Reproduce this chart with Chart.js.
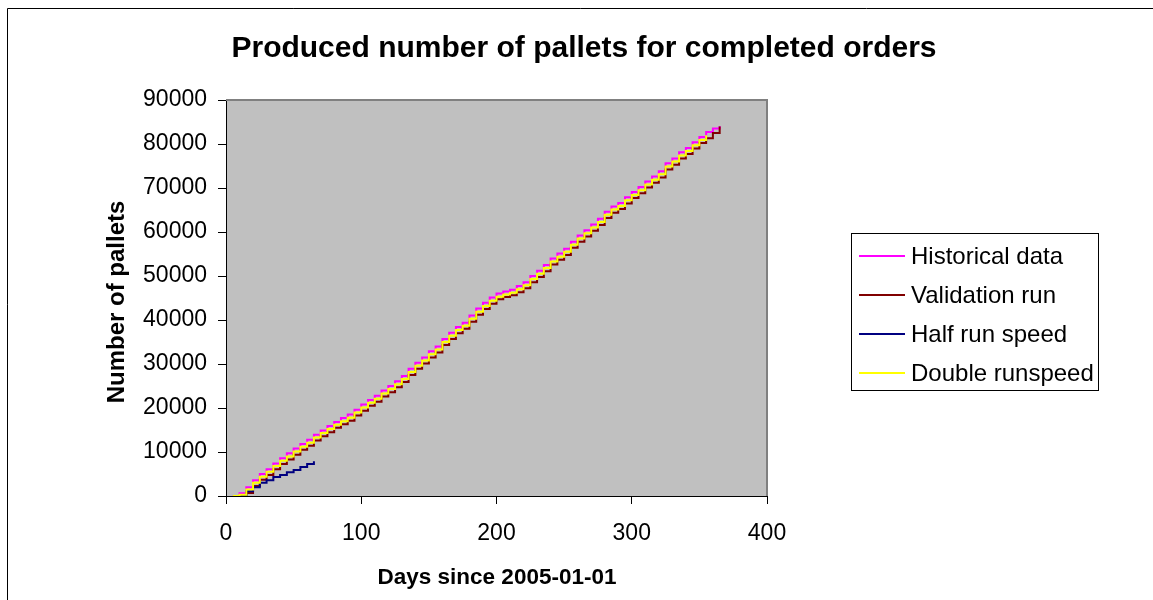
<!DOCTYPE html>
<html>
<head>
<meta charset="utf-8">
<title>Produced number of pallets</title>
<script src="https://cdn.jsdelivr.net/npm/chart.js@4.4.1/dist/chart.umd.min.js"></script>
<style>
  html, body { margin: 0; padding: 0; background: #fff; }
  canvas { display: block; }
</style>
</head>
<body>
<canvas id="palletsChart" width="1153" height="600"></canvas>
<script>
// Day number (since 2005-01-01) for each sample
const days = [
  0, 5, 10, 15, 20, 25, 30, 35, 40, 45, 50, 55, 60, 65, 70, 75, 80, 85, 90, 95,
  100, 105, 110, 115, 120, 125, 130, 135, 140, 145, 150, 155, 160, 165, 170, 175, 180, 185, 190, 195,
  200, 205, 210, 215, 220, 225, 230, 235, 240, 245, 250, 255, 260, 265, 270, 275, 280, 285, 290, 295,
  300, 305, 310, 315, 320, 325, 330, 335, 340, 345, 350, 355, 360, 365
];

// Cumulative pallets per series
const historical = [
  null, 0, 600, 2000, 3600, 5000, 6100, 7400, 8600, 9700, 10800, 11800, 12800, 13900, 14900, 15900, 16800, 17700, 18500, 19600,
  20800, 21800, 22800, 24000, 25000, 26100, 27300, 28900, 30300, 31500, 32900, 34000, 35700, 37100, 38400, 39400, 41000, 42600, 43900, 45100,
  46000, 46500, 46900, 47700, 48600, 50000, 51200, 52500, 54000, 55100, 56200, 57800, 59200, 60400, 61700, 63000, 64600, 65800, 66600, 67900,
  69100, 70200, 71500, 72600, 73800, 75600, 76700, 78100, 79100, 80400, 81600, 82700, 83500, 84100
];
const validation = [
  null, null, 0, 700, 2300, 3700, 4800, 6100, 7300, 8300, 9400, 10500, 11400, 12600, 13600, 14500, 15500, 16300, 17100, 18300,
  19400, 20500, 21400, 22600, 23600, 24700, 25900, 27500, 28900, 30100, 31500, 32600, 34300, 35700, 37000, 38000, 39600, 41200, 42500, 43700,
  44700, 45200, 45600, 46300, 47200, 48600, 49800, 51100, 52600, 53700, 54800, 56400, 57800, 59000, 60300, 61600, 63200, 64400, 65200, 66500,
  67700, 68800, 70100, 71200, 72400, 74200, 75300, 76700, 77700, 79000, 80200, 81300, 82500, 84000
];
const halfSpeed = [
  null, null, 0, 1100, 2000, 3000, 3600, 4300, 4800, 5400, 5900, 6600, 7300, 7900
];
const doubleSpeed = [
  null, 0, 300, 1500, 3000, 4400, 5500, 6800, 8000, 9000, 10100, 11200, 12100, 13300, 14300, 15200, 16200, 17000, 17800, 19000,
  20100, 21200, 22100, 23300, 24300, 25400, 26600, 28200, 29600, 30800, 32200, 33300, 35000, 36400, 37700, 38700, 40300, 41900, 43200, 44400,
  45300, 45800, 46200, 47000, 47900, 49300, 50500, 51800, 53300, 54400, 55500, 57100, 58500, 59700, 61000, 62300, 63900, 65100, 65900, 67200,
  68400, 69500, 70800, 71900, 73100, 74900, 76000, 77400, 78400, 79700, 80900, 82000
];

const xTicks = [0, 100, 200, 300, 400];
const yTicks = [0, 10000, 20000, 30000, 40000, 50000, 60000, 70000, 80000, 90000];

const seriesNames = ['Historical data', 'Validation run', 'Half run speed', 'Double runspeed'];
const seriesColors = ['#ff00ff', '#800000', '#000080', '#ffff00'];

const FONT = "'Liberation Sans', Arial, sans-serif";

// pair day numbers with values, skipping days a series has no sample for
const toPoints = (values) => values
  .map((v, i) => (v === null ? null : { x: days[i], y: v }))
  .filter(p => p !== null);

const makeDataset = (idx, values, order) => ({
  label: seriesNames[idx],
  data: toPoints(values),
  borderColor: seriesColors[idx],
  backgroundColor: seriesColors[idx],
  borderWidth: 2,
  pointRadius: 0,
  stepped: true,
  tension: 0,
  order: order
});

// grey plot area, frame, titles and boxed legend
const excelFrame = {
  id: 'excelFrame',
  beforeDraw(chart) {
    const { ctx, chartArea } = chart;
    ctx.save();
    ctx.fillStyle = '#ffffff';
    ctx.fillRect(0, 0, chart.width, chart.height);
    ctx.fillStyle = '#c0c0c0';
    ctx.fillRect(chartArea.left, chartArea.top, chartArea.right - chartArea.left, chartArea.bottom - chartArea.top);
    ctx.restore();
  },
  afterDraw(chart) {
    const { ctx, chartArea } = chart;
    ctx.save();

    // top/right edge of plot area
    ctx.strokeStyle = '#808080';
    ctx.lineWidth = 2;
    ctx.beginPath();
    ctx.moveTo(chartArea.left, chartArea.top);
    ctx.lineTo(chartArea.right, chartArea.top);
    ctx.lineTo(chartArea.right, chartArea.bottom);
    ctx.stroke();

    // outer chart border
    ctx.strokeStyle = '#000000';
    ctx.lineWidth = 1;
    ctx.beginPath();
    ctx.moveTo(7.5, chart.height);
    ctx.lineTo(7.5, 8.5);
    ctx.lineTo(chart.width, 8.5);
    ctx.stroke();

    ctx.fillStyle = '#000000';

    // chart title
    ctx.font = `bold 30px ${FONT}`;
    ctx.textAlign = 'center';
    ctx.textBaseline = 'alphabetic';
    ctx.fillText('Produced number of pallets for completed orders', 584, 57);

    // axis titles
    ctx.font = `bold 22.5px ${FONT}`;
    ctx.textBaseline = 'middle';
    ctx.fillText('Days since 2005-01-01', 497, 578);
    ctx.font = `bold 24px ${FONT}`;
    ctx.save();
    ctx.translate(117, 302);
    ctx.rotate(-Math.PI / 2);
    ctx.fillText('Number of pallets', 0, 0);
    ctx.restore();

    // legend
    ctx.lineWidth = 1;
    ctx.strokeRect(851.5, 233.5, 247, 157);
    ctx.font = `24px ${FONT}`;
    ctx.textAlign = 'left';
    seriesNames.forEach((name, i) => {
      const y = 256 + i * 39;
      ctx.strokeStyle = seriesColors[i];
      ctx.lineWidth = 2;
      ctx.beginPath();
      ctx.moveTo(859, y);
      ctx.lineTo(905, y);
      ctx.stroke();
      ctx.fillText(name, 911, y + 1);
    });

    ctx.restore();
  }
};

const ctx = document.getElementById('palletsChart').getContext('2d');

new Chart(ctx, {
  type: 'line',
  data: {
    datasets: [
      makeDataset(0, historical, 4),
      makeDataset(1, validation, 3),
      makeDataset(2, halfSpeed, 2),
      makeDataset(3, doubleSpeed, 1)
    ]
  },
  options: {
    responsive: false,
    animation: false,
    devicePixelRatio: 1,
    layout: {
      padding: { top: 100, right: 386, left: 0, bottom: 0 }
    },
    plugins: {
      legend: { display: false },
      title: { display: false },
      tooltip: { enabled: false }
    },
    scales: {
      x: {
        type: 'linear',
        min: xTicks[0],
        max: xTicks[xTicks.length - 1],
        afterBuildTicks: (scale) => { scale.ticks = xTicks.map(v => ({ value: v })); },
        afterFit: (scale) => { scale.height = 104; },
        ticks: {
          color: '#000',
          font: { family: FONT, size: 23 },
          padding: 16,
          maxRotation: 0,
          callback: (v) => String(v)
        },
        grid: { drawOnChartArea: false, drawTicks: true, tickLength: 8, color: '#000' },
        border: { color: '#000', width: 1 }
      },
      y: {
        min: yTicks[0],
        max: yTicks[yTicks.length - 1],
        afterBuildTicks: (scale) => { scale.ticks = yTicks.map(v => ({ value: v })); },
        afterFit: (scale) => { scale.width = 226; },
        ticks: {
          color: '#000',
          font: { family: FONT, size: 23 },
          padding: 11,
          callback: (v) => String(v)
        },
        grid: { drawOnChartArea: false, drawTicks: true, tickLength: 8, color: '#000' },
        border: { color: '#000', width: 1 }
      }
    }
  },
  plugins: [excelFrame]
});
</script>
</body>
</html>
